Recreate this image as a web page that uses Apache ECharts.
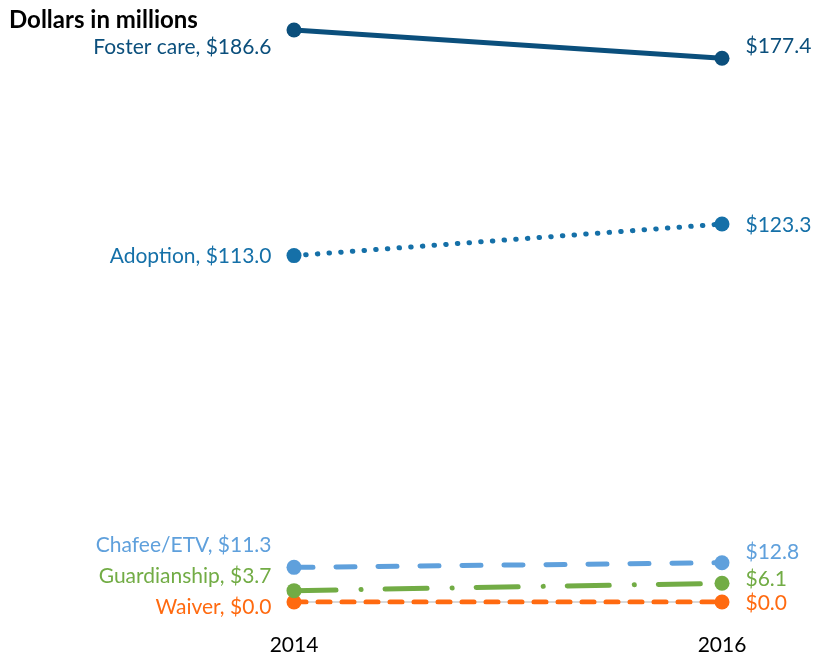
<!DOCTYPE html>
<html>
<head>
<meta charset="utf-8">
<script src="https://cdn.jsdelivr.net/npm/echarts@6/dist/echarts.min.js"></script>
<style>
  html, body { margin: 0; padding: 0; background: #fff; }
  #chart { width: 814px; height: 659px; }
</style>
</head>
<body>
<div id="chart"></div>
<script>
(function () {
  var years = ['2014', '2016'];
  var names = ['Foster care', 'Adoption', 'Chafee/ETV', 'Guardianship', 'Waiver'];
  var fosterCare = [186.6, 177.4];
  var adoption = [113.0, 123.3];
  var chafee = [11.3, 12.8];
  var guardianship = [3.7, 6.1];
  var waiver = [0.0, 0.0];

  var colors = ['#0b4f7c', '#1570a8', '#5fa0dc', '#72ac45', '#ff6a10'];
  // dash patterns (drawn with round caps, so visible dashes are a bit longer)
  var lineTypes = ['solid', [0.5, 11.2], [19, 23], [42, 25, 0.1, 24], [12, 12]];
  // vertical nudges for the end labels: [left, right]
  var labelShift = [[17, -12], [1, 1], [-22, -11], [-14, -4], [5, 1]];

  function money(v) { return '$' + v.toFixed(1); }

  function buildSeries(i, values) {
    var data = values.map(function (v, j) {
      var left = j === 0;
      return {
        value: v,
        label: {
          show: true,
          position: left ? 'left' : 'right',
          distance: left ? 15 : 16,
          offset: [0, labelShift[i][j]],
          formatter: left ? names[i] + ', ' + money(v) : money(v)
        }
      };
    });
    return {
      name: names[i],
      type: 'line',
      data: data,
      symbol: 'circle',
      symbolSize: 15,
      color: colors[i],
      itemStyle: { color: colors[i] },
      lineStyle: {
        color: colors[i],
        width: 5,
        type: lineTypes[i],
        cap: i === 0 ? 'butt' : 'round'
      },
      label: {
        color: colors[i],
        fontFamily: 'Lato',
        fontSize: 21
      },
      z: 10 - i
    };
  }

  var chart = echarts.init(document.getElementById('chart'), null, { renderer: 'canvas' });
  chart.setOption({
    animation: false,
    title: {
      text: 'Dollars in millions',
      left: 4,
      top: 3,
      textStyle: { fontFamily: 'Lato', fontWeight: 'bold', fontSize: 24, color: '#000' }
    },
    grid: { left: 294, right: 92, top: 30, bottom: 57 },
    xAxis: {
      type: 'category',
      data: years,
      boundaryGap: false,
      axisLine: { lineStyle: { color: '#d9d9d9', width: 2 } },
      axisTick: { show: false },
      axisLabel: { color: '#000', fontFamily: 'Lato', fontSize: 21, margin: 33 },
      splitLine: { show: false }
    },
    yAxis: {
      type: 'value',
      min: 0,
      max: 186.6,
      show: false,
      splitLine: { show: false }
    },
    series: [
      buildSeries(0, fosterCare),
      buildSeries(1, adoption),
      buildSeries(2, chafee),
      buildSeries(3, guardianship),
      buildSeries(4, waiver)
    ]
  });
})();
</script>
</body>
</html>
